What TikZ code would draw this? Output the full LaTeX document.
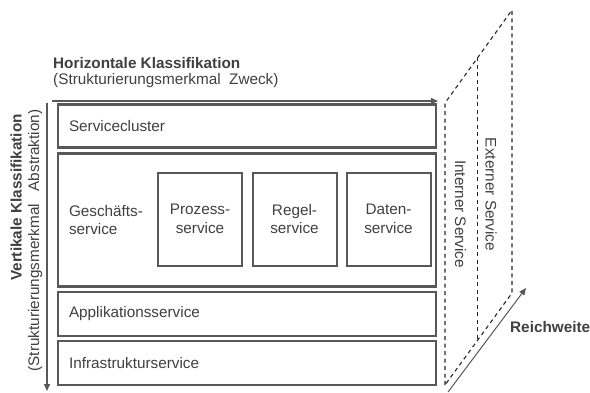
\documentclass[tikz,border=0pt]{standalone}
\usepackage{fontspec}
\setmainfont{Liberation Sans}
\usepackage{xcolor}
\usepackage{tikz}
\usetikzlibrary{calc, arrows.meta}

\definecolor{textgray}{RGB}{64,64,64}
\definecolor{linegray}{RGB}{88,88,88}
\definecolor{dashgray}{RGB}{40,40,40}

\tikzset{
	layer/.style = {draw = linegray, line width = 2.2pt, minimum width = 378pt, text width = 356pt, inner xsep = 11pt, align = left},
	subbox/.style = {draw = linegray, line width = 2pt, minimum width = 84pt, minimum height = 93pt, inner sep = 0pt, align = center},
	axis/.style = {draw = linegray, line width = 1.4pt, -{Triangle[length = 7pt, width = 6pt]}},
	wedge/.style = {draw = dashgray, line width = 1.1pt, dash pattern = on 4pt off 3.5pt},
	title/.style = {inner sep = 0pt, font = \fontsize{15.3}{18.5}\selectfont\bfseries},
	subtitle/.style = {inner sep = 0pt}
}

\begin{document}
\begin{tikzpicture}[x = 1pt, y = -1pt, font = \fontsize{15.3}{18.5}\selectfont, text = textgray]
	\def\xmid{247};
	
	\useasboundingbox (0,0) rectangle (590,392);
	
	% schichten
	\node [layer, minimum height = 43pt] (cluster) at (\xmid,126) {Servicecluster};
	\node [layer, minimum height = 133pt] (geschaeft) at (\xmid,220) {Geschäfts-\\service};
	\node [layer, minimum height = 44pt] (appl) at (\xmid,314) {Applikationsservice};
	\node [layer, minimum height = 44pt] (infra) at (\xmid,363) {Infrastrukturservice};
	
	\node [subbox] (prozess) at (200,219) {Prozess-\\service};
	\node [subbox] (regel) at (294.5,219) {Regel-\\service};
	\node [subbox] (daten) at (388.5,219) {Daten-\\service};
	
	% achsen
	\coordinate (hstart) at (52,101);
	\coordinate (hend) at (438,101);
	\coordinate (vstart) at (47,103);
	\coordinate (vend) at (47,391);
	\draw [axis] (hstart) -- (hend);
	\draw [axis] (vstart) -- (vend);
	
	\node [title, anchor = base west] (htitle) at (53,68) {Horizontale Klassifikation};
	\node [subtitle, anchor = base west] (hsub) at (53,84.5) {(Strukturierungsmerkmal\ \ Zweck)};
	\node [title, anchor = base, rotate = 90] (vtitle) at (21.5,197.5) {Vertikale Klassifikation};
	\node [subtitle, anchor = base, rotate = 90] (vsub) at (39,240.5) {(Strukturierungsmerkmal\ \ \ Abstraktion)};
	
	% reichweite
	\coordinate (intop) at (445,103);
	\coordinate (inbot) at (445,385);
	\coordinate (extop) at (512,10);
	\coordinate (exbot) at (512,293);
	\coordinate (midtop) at ($(intop)!0.48!(extop)$);
	\coordinate (midbot) at ($(inbot)!0.48!(exbot)$);
	
	\draw [wedge] (inbot) -- (intop) -- (extop) -- (exbot) -- cycle;
	\draw [wedge, dash phase = 1pt] (midtop) -- (midbot);
	
	\node [subtitle, anchor = base, rotate = -90] (intern) at (455,214) {Interner Service};
	\node [subtitle, anchor = base, rotate = -90] (extern) at (485.5,194.5) {Externer Service};
	
	\coordinate (rstart) at (448,392);
	\coordinate (rend) at (526,288);
	\draw [axis, line width = 1pt] (rstart) -- (rend);
	\node [title, anchor = base west] (reich) at (510,332) {Reichweite};
\end{tikzpicture}
\end{document}
